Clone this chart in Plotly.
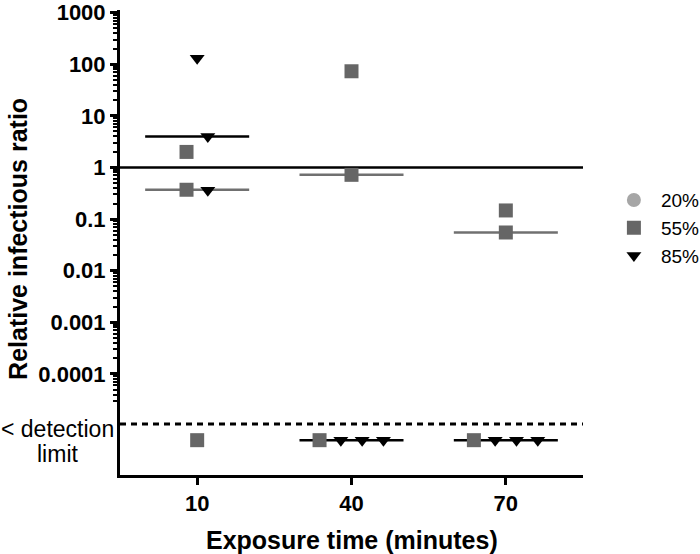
import math
import plotly.graph_objects as go

# exposure time categories (minutes)
times = ['10', '40', '70']

# relative infectious ratio per humidity series; None = below detection limit
rh20_time = []
rh20_ratio = []
rh55_time = ['10', '10', '10', '40', '40', '40', '70', '70', '70']
rh55_ratio = [2.0, 0.37, None, 73, 0.72, None, 0.147, 0.055, None]
rh85_time = ['10', '10', '10', '40', '40', '40', '70', '70', '70']
rh85_ratio = [130, 4.0, 0.36, None, None, None, None, None, None]

y_ticks = [1e-4, 1e-3, 1e-2, 1e-1, 1, 10, 100, 1000]
y_ticktext = ['0.0001', '0.001', '0.01', '0.1', '1', '10', '100', '1000']

FONT = 'Liberation Sans, Arial, sans-serif'
SPREAD = 0.138      # horizontal step between overlapping points (category units)
CLUSTER = 0.36      # decades: points closer than this get spread
HALF = 0.337        # half width of median bar
BDL_Y = 0.52        # row height for below-detection points (on yaxis2)

series = [
    dict(name='20%', t=rh20_time, v=rh20_ratio, symbol='circle', color='#a6a6a6',
         size=14, line='#a6a6a6'),
    dict(name='55%', t=rh55_time, v=rh55_ratio, symbol='square', color='#666666',
         size=14, line='#707070'),
    dict(name='85%', t=rh85_time, v=rh85_ratio, symbol='triangle-down', color='#000000',
         size=13, line='#000000'),
]

# spread overlapping points sideways inside each category
xpos = {}
for ci, t in enumerate(times):
    above, below = [], []
    for si, s in enumerate(series):
        for pi, (tt, v) in enumerate(zip(s['t'], s['v'])):
            if tt != t:
                continue
            if v is None:
                below.append((si, pi))
            else:
                above.append((math.log10(v), si, pi))
    groups = [below] if below else []
    above.sort()
    cur = []
    for k, (lv, si, pi) in enumerate(above):
        if cur and lv - above[k - 1][0] > CLUSTER:
            groups.append(cur)
            cur = []
        cur.append((si, pi))
    if cur:
        groups.append(cur)
    for g in groups:
        g = sorted(g)
        n = len(g)
        for k, key in enumerate(g):
            xpos[key] = ci + (k - (n - 1) / 2) * SPREAD

fig = go.Figure()

# reference line at ratio = 1
fig.add_trace(go.Scatter(x=[-0.5, 2.5], y=[1, 1], mode='lines', line=dict(color='black', width=2.5),
                         showlegend=False, hoverinfo='skip', cliponaxis=False))

# median bars
for si, s in enumerate(series):
    for ci, t in enumerate(times):
        vals = [v for tt, v in zip(s['t'], s['v']) if tt == t]
        if not vals:
            continue
        srt = sorted(vals, key=lambda v: -1e99 if v is None else v)
        med = srt[len(srt) // 2]
        if med is None:
            fig.add_trace(go.Scatter(x=[ci - HALF, ci + HALF], y=[BDL_Y, BDL_Y], yaxis='y2', mode='lines',
                                     line=dict(color=s['line'], width=2.5), showlegend=False, hoverinfo='skip'))
        else:
            fig.add_trace(go.Scatter(x=[ci - HALF, ci + HALF], y=[med, med], mode='lines',
                                     line=dict(color=s['line'], width=2.5), showlegend=False, hoverinfo='skip'))

# points
for si, s in enumerate(series):
    ax, ay, bx = [], [], []
    for pi, v in enumerate(s['v']):
        if v is None:
            bx.append(xpos[(si, pi)])
        else:
            ax.append(xpos[(si, pi)])
            ay.append(v)
    mk = dict(symbol=s['symbol'], color=s['color'], size=s['size'], line=dict(width=0))
    fig.add_trace(go.Scatter(x=ax or [None], y=ay or [None], mode='markers', marker=mk, name=s['name']))
    if bx:
        fig.add_trace(go.Scatter(x=bx, y=[BDL_Y] * len(bx), yaxis='y2', mode='markers', marker=mk,
                                 name=s['name'], showlegend=False))

minor_vals = [m * 10 ** e for e in range(-5, 3) for m in range(2, 10)]

fig.update_layout(
    width=700, height=554,
    margin=dict(l=120, r=117, t=10, b=79),
    plot_bgcolor='white', paper_bgcolor='white',
    font=dict(family=FONT, color='black'),
    xaxis=dict(range=[-0.5, 2.5], tickvals=[0, 1, 2], ticktext=times, anchor='y2', automargin=False,
               showline=True, linewidth=3, linecolor='black', ticks='outside', ticklen=7,
               tickwidth=3, tickcolor='black', showgrid=False, zeroline=False,
               tickfont=dict(size=22, weight='bold')),
    yaxis=dict(type='log', domain=[0.144, 1], range=[-4.66, 3.05], anchor='x', automargin=False,
               tickmode='array', tickvals=y_ticks, ticktext=y_ticktext,
               showline=True, linewidth=3, linecolor='black', ticks='outside', ticklen=7,
               tickwidth=2.5, tickcolor='black', showgrid=False, zeroline=False,
               tickfont=dict(size=22, weight='bold'), ticklabeloverflow='allow',
               minor=dict(tickmode='array', tickvals=minor_vals, ticks='outside', ticklen=4,
                          tickwidth=1.5, tickcolor='black', showgrid=False)),
    yaxis2=dict(domain=[0, 0.144], range=[0, 1], anchor='x', showline=True, linewidth=3,
                automargin=False, linecolor='black', showticklabels=False, ticks='',
                showgrid=False, zeroline=False),
    legend=dict(xref='container', yref='container', x=0.867, y=0.673, xanchor='left', yanchor='top',
                itemwidth=44, font=dict(size=19), bgcolor='rgba(0,0,0,0)'),
    shapes=[dict(type='line', xref='x domain', x0=0, x1=1, yref='y2', y0=0.76, y1=0.76,
                 line=dict(color='black', width=3, dash='6px,5px'))],
    annotations=[
        dict(text='< detection', xref='paper', yref='paper', x=-0.135, y=0.099,
             xanchor='center', yanchor='middle', showarrow=False, font=dict(size=23)),
        dict(text='limit', xref='paper', yref='paper', x=-0.135, y=0.045,
             xanchor='center', yanchor='middle', showarrow=False, font=dict(size=23)),
        dict(text='Relative infectious ratio', xref='paper', yref='paper', x=-0.22, y=0.508,
             xanchor='center', yanchor='middle', textangle=-90, showarrow=False,
             font=dict(size=25, weight='bold')),
        dict(text='Exposure time (minutes)', xref='paper', yref='paper', x=0.5, y=-0.14,
             xanchor='center', yanchor='middle', showarrow=False,
             font=dict(size=25, weight='bold')),
    ],
)

# drop the browser's default 8px body margin so the figure sits at the page corner
fig.write_html('out.html', config={'displayModeBar': False},
               post_script="document.body.style.margin='0';")
